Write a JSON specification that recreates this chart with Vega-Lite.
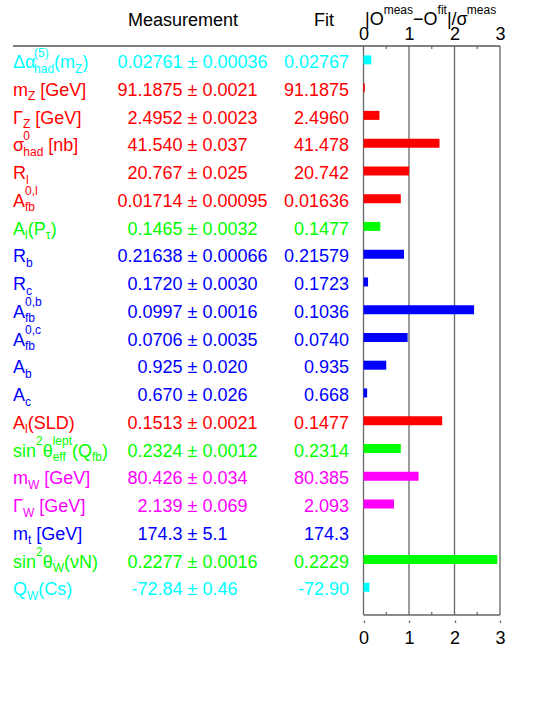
{
"$schema": "https://vega.github.io/schema/vega-lite/v6.json",
"width": 487, "height": 579,
"autosize": {"type": "none"},
"padding": {"left": 13, "top": 41, "right": 54, "bottom": 97},
"background": "white",
"config": {"view": {"stroke": null}, "text": {"font": "Liberation Sans"}, "axis": {"labelFont": "Liberation Sans"}},
"params": [{"name": "cw", "value": {" ":0.278,"(":0.333,")":0.333,"[":0.278,"]":0.278,",":0.278,"|":0.26,"/":0.278,"−":0.584,"-":0.333,"0":0.556,"1":0.556,"2":0.556,"3":0.556,"4":0.556,"5":0.556,"6":0.556,"7":0.556,"8":0.556,"9":0.556,"a":0.556,"b":0.556,"c":0.5,"d":0.556,"e":0.556,"f":0.278,"h":0.556,"i":0.222,"l":0.222,"m":0.833,"n":0.556,"p":0.556,"s":0.5,"t":0.278,"A":0.667,"C":0.722,"D":0.722,"G":0.778,"L":0.556,"N":0.722,"O":0.778,"P":0.667,"Q":0.778,"R":0.722,"S":0.667,"V":0.667,"W":0.944,"Z":0.611,"Δ":0.62,"α":0.55,"Γ":0.557,"σ":0.571,"θ":0.556,"τ":0.42,"ν":0.5}}],
"datasets": {
"obs": [
{"idx":0,"grp":"cyan","meas":"0.02761","err":"0.00036","fit":"0.02767","pull":0.17},
{"idx":1,"grp":"red","meas":"91.1875","err":"0.0021","fit":"91.1875","pull":0.03},
{"idx":2,"grp":"red","meas":"2.4952","err":"0.0023","fit":"2.4960","pull":0.35},
{"idx":3,"grp":"red","meas":"41.540","err":"0.037","fit":"41.478","pull":1.67},
{"idx":4,"grp":"red","meas":"20.767","err":"0.025","fit":"20.742","pull":1.00},
{"idx":5,"grp":"red","meas":"0.01714","err":"0.00095","fit":"0.01636","pull":0.82},
{"idx":6,"grp":"green","meas":"0.1465","err":"0.0032","fit":"0.1477","pull":0.37},
{"idx":7,"grp":"blue","meas":"0.21638","err":"0.00066","fit":"0.21579","pull":0.89},
{"idx":8,"grp":"blue","meas":"0.1720","err":"0.0030","fit":"0.1723","pull":0.10},
{"idx":9,"grp":"blue","meas":"0.0997","err":"0.0016","fit":"0.1036","pull":2.43},
{"idx":10,"grp":"blue","meas":"0.0706","err":"0.0035","fit":"0.0740","pull":0.97},
{"idx":11,"grp":"blue","meas":"0.925","err":"0.020","fit":"0.935","pull":0.50},
{"idx":12,"grp":"blue","meas":"0.670","err":"0.026","fit":"0.668","pull":0.08},
{"idx":13,"grp":"red","meas":"0.1513","err":"0.0021","fit":"0.1477","pull":1.73},
{"idx":14,"grp":"green","meas":"0.2324","err":"0.0012","fit":"0.2314","pull":0.82},
{"idx":15,"grp":"magenta","meas":"80.426","err":"0.034","fit":"80.385","pull":1.21},
{"idx":16,"grp":"magenta","meas":"2.139","err":"0.069","fit":"2.093","pull":0.67},
{"idx":17,"grp":"blue","meas":"174.3","err":"5.1","fit":"174.3","pull":0.00},
{"idx":18,"grp":"green","meas":"0.2277","err":"0.0016","fit":"0.2229","pull":2.94},
{"idx":19,"grp":"cyan","meas":"-72.84","err":"0.46","fit":"-72.90","pull":0.13}
],
"pieces": [
{"row":-1,"seq":0,"main":"|O","sup":"","sub":""},
{"row":-1,"seq":1,"main":"","sup":"meas","sub":""},
{"row":-1,"seq":2,"main":"−O","sup":"","sub":""},
{"row":-1,"seq":3,"main":"","sup":"fit","sub":""},
{"row":-1,"seq":4,"main":"|/σ","sup":"","sub":""},
{"row":-1,"seq":5,"main":"","sup":"meas","sub":""},
{"row":0,"seq":0,"main":"Δα","sup":"","sub":""},
{"row":0,"seq":1,"main":"","sup":"(5)","sub":"had"},
{"row":0,"seq":2,"main":"(m","sup":"","sub":""},
{"row":0,"seq":3,"main":"","sup":"","sub":"Z"},
{"row":0,"seq":4,"main":")","sup":"","sub":""},
{"row":1,"seq":0,"main":"m","sup":"","sub":""},
{"row":1,"seq":1,"main":"","sup":"","sub":"Z"},
{"row":1,"seq":2,"main":" ","sup":"","sub":""},
{"row":1,"seq":3,"main":"[GeV]","sup":"","sub":""},
{"row":2,"seq":0,"main":"Γ","sup":"","sub":""},
{"row":2,"seq":1,"main":"","sup":"","sub":"Z"},
{"row":2,"seq":2,"main":" ","sup":"","sub":""},
{"row":2,"seq":3,"main":"[GeV]","sup":"","sub":""},
{"row":3,"seq":0,"main":"σ","sup":"","sub":""},
{"row":3,"seq":1,"main":"","sup":"0","sub":"had"},
{"row":3,"seq":2,"main":" ","sup":"","sub":""},
{"row":3,"seq":3,"main":"[nb]","sup":"","sub":""},
{"row":4,"seq":0,"main":"R","sup":"","sub":""},
{"row":4,"seq":1,"main":"","sup":"","sub":"l"},
{"row":5,"seq":0,"main":"A","sup":"","sub":""},
{"row":5,"seq":1,"main":"","sup":"0,l","sub":"fb"},
{"row":6,"seq":0,"main":"A","sup":"","sub":""},
{"row":6,"seq":1,"main":"","sup":"","sub":"l"},
{"row":6,"seq":2,"main":"(P","sup":"","sub":""},
{"row":6,"seq":3,"main":"","sup":"","sub":"τ"},
{"row":6,"seq":4,"main":")","sup":"","sub":""},
{"row":7,"seq":0,"main":"R","sup":"","sub":""},
{"row":7,"seq":1,"main":"","sup":"","sub":"b"},
{"row":8,"seq":0,"main":"R","sup":"","sub":""},
{"row":8,"seq":1,"main":"","sup":"","sub":"c"},
{"row":9,"seq":0,"main":"A","sup":"","sub":""},
{"row":9,"seq":1,"main":"","sup":"0,b","sub":"fb"},
{"row":10,"seq":0,"main":"A","sup":"","sub":""},
{"row":10,"seq":1,"main":"","sup":"0,c","sub":"fb"},
{"row":11,"seq":0,"main":"A","sup":"","sub":""},
{"row":11,"seq":1,"main":"","sup":"","sub":"b"},
{"row":12,"seq":0,"main":"A","sup":"","sub":""},
{"row":12,"seq":1,"main":"","sup":"","sub":"c"},
{"row":13,"seq":0,"main":"A","sup":"","sub":""},
{"row":13,"seq":1,"main":"","sup":"","sub":"l"},
{"row":13,"seq":2,"main":"(SLD)","sup":"","sub":""},
{"row":14,"seq":0,"main":"sin","sup":"","sub":""},
{"row":14,"seq":1,"main":"","sup":"2","sub":""},
{"row":14,"seq":2,"main":"θ","sup":"","sub":""},
{"row":14,"seq":3,"main":"","sup":"lept","sub":"eff"},
{"row":14,"seq":4,"main":"(Q","sup":"","sub":""},
{"row":14,"seq":5,"main":"","sup":"","sub":"fb"},
{"row":14,"seq":6,"main":")","sup":"","sub":""},
{"row":15,"seq":0,"main":"m","sup":"","sub":""},
{"row":15,"seq":1,"main":"","sup":"","sub":"W"},
{"row":15,"seq":2,"main":" ","sup":"","sub":""},
{"row":15,"seq":3,"main":"[GeV]","sup":"","sub":""},
{"row":16,"seq":0,"main":"Γ","sup":"","sub":""},
{"row":16,"seq":1,"main":"","sup":"","sub":"W"},
{"row":16,"seq":2,"main":" ","sup":"","sub":""},
{"row":16,"seq":3,"main":"[GeV]","sup":"","sub":""},
{"row":17,"seq":0,"main":"m","sup":"","sub":""},
{"row":17,"seq":1,"main":"","sup":"","sub":"t"},
{"row":17,"seq":2,"main":" ","sup":"","sub":""},
{"row":17,"seq":3,"main":"[GeV]","sup":"","sub":""},
{"row":18,"seq":0,"main":"sin","sup":"","sub":""},
{"row":18,"seq":1,"main":"","sup":"2","sub":""},
{"row":18,"seq":2,"main":"θ","sup":"","sub":""},
{"row":18,"seq":3,"main":"","sup":"","sub":"W"},
{"row":18,"seq":4,"main":"(νN)","sup":"","sub":""},
{"row":19,"seq":0,"main":"Q","sup":"","sub":""},
{"row":19,"seq":1,"main":"","sup":"","sub":"W"},
{"row":19,"seq":2,"main":"(Cs)","sup":"","sub":""}
]
},
"resolve": {"axis": {"x": "independent"}},
"layer": [
{
"data": {"values": [{"v":0},{"v":1},{"v":2},{"v":3}]},
"mark": {"type": "rule", "color": "#666666", "strokeWidth": 1.3},
"encoding": {
"x": {"field": "v", "type": "quantitative", "scale": {"domain": [-7.704, 3], "nice": false, "zero": false},
"axis": {"orient": "bottom", "values": [0,1,2,3], "format": "d", "title": null, "domain": false, "grid": false, "ticks": true, "tickSize": 2.5, "tickColor": "#666666", "tickWidth": 1.3, "labelFontSize": 18, "labelColor": "#000000", "labelBaseline": "alphabetic", "labelPadding": 20.8, "labelFlush": false, "labelOverlap": false}},
"y": {"datum": -0.5, "type": "quantitative", "scale": {"domain": [-0.5, 20], "nice": false, "zero": false, "reverse": true}, "axis": null},
"y2": {"datum": 20}
}
},
{
"data": {"values": [{"v":0}]},
"mark": {"type": "rule", "color": "#666666", "strokeWidth": 1.3},
"encoding": {
"x": {"datum": 0, "type": "quantitative", "scale": {"domain": [-7.704, 3], "nice": false, "zero": false}, "axis": null},
"x2": {"datum": 3},
"y": {"datum": 20, "type": "quantitative", "scale": {"domain": [-0.5, 20], "nice": false, "zero": false, "reverse": true}, "axis": null}
}
},
{
"data": {"values": [{"v":0}]},
"mark": {"type": "rule", "color": "#555555", "strokeWidth": 1.4},
"encoding": {
"x": {"datum": -7.704, "type": "quantitative", "scale": {"domain": [-7.704, 3], "nice": false, "zero": false}, "axis": null},
"x2": {"datum": 3},
"y": {"datum": -0.5, "type": "quantitative", "scale": {"domain": [-0.5, 20], "nice": false, "zero": false, "reverse": true}, "axis": null}
}
},
{
"data": {"values": [{"v":0.5},{"v":1.5},{"v":2.5}]},
"mark": {"type": "rule", "color": "#666666", "strokeWidth": 1.2},
"encoding": {
"x": {"field": "v", "type": "quantitative", "scale": {"domain": [-7.704, 3], "nice": false, "zero": false}, "axis": null},
"y": {"datum": -0.5, "type": "quantitative", "scale": {"domain": [-0.5, 20], "nice": false, "zero": false, "reverse": true}, "axis": null},
"y2": {"datum": -0.394}
}
},
{
"data": {"values": [{"v":0.5},{"v":1.5},{"v":2.5}]},
"mark": {"type": "rule", "color": "#666666", "strokeWidth": 1.2},
"encoding": {
"x": {"field": "v", "type": "quantitative", "scale": {"domain": [-7.704, 3], "nice": false, "zero": false}, "axis": null},
"y": {"datum": 20, "type": "quantitative", "scale": {"domain": [-0.5, 20], "nice": false, "zero": false, "reverse": true}, "axis": null},
"y2": {"datum": 19.894}
}
},
{
"data": {"name": "obs"},
"mark": {"type": "bar", "size": 9},
"encoding": {
"x": {"field": "pull", "type": "quantitative", "scale": {"domain": [-7.704, 3], "nice": false, "zero": false},
"axis": {"orient": "top", "values": [0,1,2,3], "format": "d", "title": null, "domain": false, "grid": false, "ticks": false, "tickSize": 0, "labelFontSize": 18, "labelColor": "#000000", "labelBaseline": "alphabetic", "labelPadding": 1.5, "labelFlush": false, "labelOverlap": false}},
"x2": {"datum": 0},
"y": {"field": "idx", "type": "quantitative", "scale": {"domain": [-0.5, 20], "nice": false, "zero": false, "reverse": true}, "axis": null},
"color": {"field": "grp", "type": "nominal", "scale": {"domain": ["cyan","red","green","blue","magenta","black"], "range": ["#00ffff","#ff0000","#00ff00","#0000ff","#ff00ff","#000000"]}, "legend": null}
}
},
{
"data": {"name": "obs"},
"mark": {"type": "text", "fontSize": 18, "align": "right", "baseline": "alphabetic", "dy": 8.2},
"encoding": {
"x": {"datum": -3.9785, "type": "quantitative", "scale": {"domain": [-7.704, 3], "nice": false, "zero": false}, "axis": null},
"y": {"field": "idx", "type": "quantitative", "scale": {"domain": [-0.5, 20], "nice": false, "zero": false, "reverse": true}, "axis": null},
"text": {"field": "meas"},
"color": {"field": "grp", "type": "nominal", "scale": {"domain": ["cyan","red","green","blue","magenta","black"], "range": ["#00ffff","#ff0000","#00ff00","#0000ff","#ff00ff","#000000"]}, "legend": null}
}
},
{
"data": {"name": "obs"},
"transform": [{"calculate": "'± ' + datum.err", "as": "errt"}],
"mark": {"type": "text", "fontSize": 18, "align": "left", "baseline": "alphabetic", "dy": 8.2},
"encoding": {
"x": {"datum": -3.8686, "type": "quantitative", "scale": {"domain": [-7.704, 3], "nice": false, "zero": false}, "axis": null},
"y": {"field": "idx", "type": "quantitative", "scale": {"domain": [-0.5, 20], "nice": false, "zero": false, "reverse": true}, "axis": null},
"text": {"field": "errt"},
"color": {"field": "grp", "type": "nominal", "scale": {"domain": ["cyan","red","green","blue","magenta","black"], "range": ["#00ffff","#ff0000","#00ff00","#0000ff","#ff00ff","#000000"]}, "legend": null}
}
},
{
"data": {"name": "obs"},
"mark": {"type": "text", "fontSize": 18, "align": "right", "baseline": "alphabetic", "dy": 8.2},
"encoding": {
"x": {"datum": -0.319, "type": "quantitative", "scale": {"domain": [-7.704, 3], "nice": false, "zero": false}, "axis": null},
"y": {"field": "idx", "type": "quantitative", "scale": {"domain": [-0.5, 20], "nice": false, "zero": false, "reverse": true}, "axis": null},
"text": {"field": "fit"},
"color": {"field": "grp", "type": "nominal", "scale": {"domain": ["cyan","red","green","blue","magenta","black"], "range": ["#00ffff","#ff0000","#00ff00","#0000ff","#ff00ff","#000000"]}, "legend": null}
}
},
{
"data": {"values": [{"t": "Measurement"}]},
"mark": {"type": "text", "fontSize": 18, "align": "center", "baseline": "alphabetic", "dy": 8.2, "color": "#000000"},
"encoding": {
"x": {"datum": -3.9675, "type": "quantitative", "scale": {"domain": [-7.704, 3], "nice": false, "zero": false}, "axis": null},
"y": {"datum": -1.516, "type": "quantitative", "scale": {"domain": [-0.5, 20], "nice": false, "zero": false, "reverse": true}, "axis": null},
"text": {"field": "t"}
}
},
{
"data": {"values": [{"t": "Fit"}]},
"mark": {"type": "text", "fontSize": 18, "align": "center", "baseline": "alphabetic", "dy": 8.2, "color": "#000000"},
"encoding": {
"x": {"datum": -0.868, "type": "quantitative", "scale": {"domain": [-7.704, 3], "nice": false, "zero": false}, "axis": null},
"y": {"datum": -1.516, "type": "quantitative", "scale": {"domain": [-0.5, 20], "nice": false, "zero": false, "reverse": true}, "axis": null},
"text": {"field": "t"}
}
},
{
"data": {"name": "pieces"},
"transform": [
{"lookup": "row", "from": {"data": {"name": "obs"}, "key": "idx", "fields": ["grp"]}, "default": "black"},
{"calculate": "18*((cw[substring(datum.main,0,1)]||0)+(cw[substring(datum.main,1,2)]||0)+(cw[substring(datum.main,2,3)]||0)+(cw[substring(datum.main,3,4)]||0)+(cw[substring(datum.main,4,5)]||0)+(cw[substring(datum.main,5,6)]||0))", "as": "wm"},
{"calculate": "12*((cw[substring(datum.sup,0,1)]||0)+(cw[substring(datum.sup,1,2)]||0)+(cw[substring(datum.sup,2,3)]||0)+(cw[substring(datum.sup,3,4)]||0)+(cw[substring(datum.sup,4,5)]||0)+(cw[substring(datum.sup,5,6)]||0))", "as": "wp"},
{"calculate": "12*((cw[substring(datum.sub,0,1)]||0)+(cw[substring(datum.sub,1,2)]||0)+(cw[substring(datum.sub,2,3)]||0)+(cw[substring(datum.sub,3,4)]||0)+(cw[substring(datum.sub,4,5)]||0)+(cw[substring(datum.sub,5,6)]||0))", "as": "wb"},
{"calculate": "max(datum.wm, datum.wp, datum.wb)", "as": "w"},
{"window": [{"op": "sum", "field": "w", "as": "cum"}], "groupby": ["row"], "sort": [{"field": "seq", "order": "ascending"}]},
{"calculate": "(datum.row < 0 ? 0.0328 : -7.704) + (datum.cum - datum.w) / 45.497", "as": "px"},
{"calculate": "datum.row < 0 ? -1.54 : datum.row", "as": "py"}
],
"layer": [
{
"mark": {"type": "text", "fontSize": 18, "align": "left", "baseline": "alphabetic", "dy": 8.2},
"encoding": {
"x": {"field": "px", "type": "quantitative", "scale": {"domain": [-7.704, 3], "nice": false, "zero": false}, "axis": null},
"y": {"field": "py", "type": "quantitative", "scale": {"domain": [-0.5, 20], "nice": false, "zero": false, "reverse": true}, "axis": null},
"text": {"field": "main"},
"color": {"field": "grp", "type": "nominal", "scale": {"domain": ["cyan","red","green","blue","magenta","black"], "range": ["#00ffff","#ff0000","#00ff00","#0000ff","#ff00ff","#000000"]}, "legend": null}
}
},
{
"mark": {"type": "text", "fontSize": 12, "align": "left", "baseline": "alphabetic", "dy": -3.3},
"encoding": {
"x": {"field": "px", "type": "quantitative", "scale": {"domain": [-7.704, 3], "nice": false, "zero": false}, "axis": null},
"y": {"field": "py", "type": "quantitative", "scale": {"domain": [-0.5, 20], "nice": false, "zero": false, "reverse": true}, "axis": null},
"text": {"field": "sup"},
"color": {"field": "grp", "type": "nominal", "scale": {"domain": ["cyan","red","green","blue","magenta","black"], "range": ["#00ffff","#ff0000","#00ff00","#0000ff","#ff00ff","#000000"]}, "legend": null}
}
},
{
"mark": {"type": "text", "fontSize": 12, "align": "left", "baseline": "alphabetic", "dy": 12.7},
"encoding": {
"x": {"field": "px", "type": "quantitative", "scale": {"domain": [-7.704, 3], "nice": false, "zero": false}, "axis": null},
"y": {"field": "py", "type": "quantitative", "scale": {"domain": [-0.5, 20], "nice": false, "zero": false, "reverse": true}, "axis": null},
"text": {"field": "sub"},
"color": {"field": "grp", "type": "nominal", "scale": {"domain": ["cyan","red","green","blue","magenta","black"], "range": ["#00ffff","#ff0000","#00ff00","#0000ff","#ff00ff","#000000"]}, "legend": null}
}
}
]
}
]
}
